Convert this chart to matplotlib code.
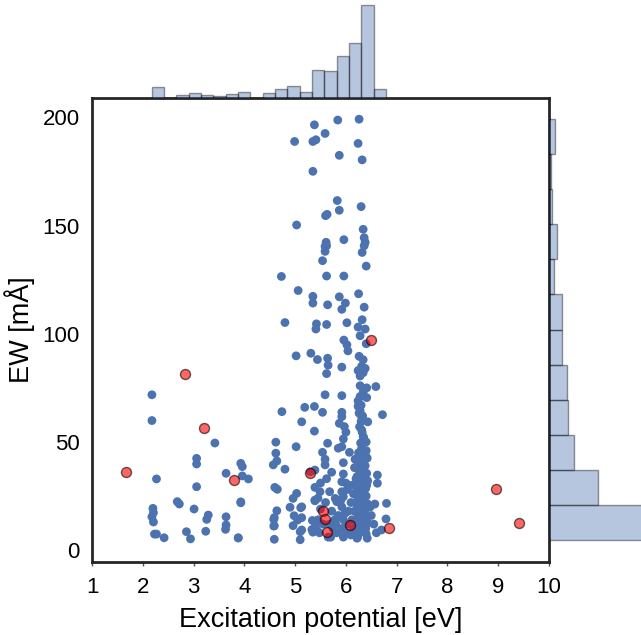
import matplotlib
matplotlib.use("Agg")
import matplotlib.pyplot as plt
import numpy as np

plt.rcParams['font.family'] = ['Liberation Sans', 'DejaVu Sans']

# blue points: (excitation potential, EW)
blue_x = [5.38, 4.99, 5.35, 5.41, 5.35, 5.03, 4.73, 5.06, 5.35, 5.35, 4.80, 5.42,
          5.84, 6.26, 5.59, 6.24, 5.87, 6.32, 5.83, 5.87, 6.30, 5.60, 5.63, 6.34,
          5.96, 6.36, 6.38, 6.36, 5.61, 5.62, 5.59,
          5.59, 6.32, 5.54, 6.40, 5.62, 5.96, 5.64, 5.87, 5.99, 5.92, 6.25, 6.36,
          5.41, 5.62, 6.02, 6.32, 6.24, 6.38, 6.28, 6.40, 5.96, 6.02, 6.04, 5.31,
          5.44, 5.64, 5.65, 5.62, 5.92,
          6.26, 6.34, 6.31, 6.34, 6.28, 6.38, 6.24,
          6.59, 6.28, 6.41, 6.34, 6.28, 6.41, 5.59, 5.92, 5.02,
          5.38, 5.54, 6.24, 6.24, 5.92, 5.92, 6.26, 6.31, 6.72, 5.13, 5.87, 5.97,
          6.00, 6.43, 5.38, 6.31, 6.34, 6.40, 5.95, 5.64, 5.85, 5.92, 5.54, 6.07,
          5.59, 5.59, 5.95, 6.17, 5.30, 5.95, 6.62, 5.92, 5.39, 5.49, 6.62, 5.92,
          5.95, 5.39, 5.13, 5.79, 5.82, 6.80, 6.57, 6.79, 6.70,
          4.74, 4.62, 4.62, 4.64, 4.57, 3.93, 3.96, 5.02, 4.80, 3.96, 4.08, 5.39,
          4.60, 4.65, 5.03, 4.96, 3.93, 4.90, 5.11, 4.64, 4.98, 5.05, 4.96, 4.59,
          4.59, 5.10, 3.88, 4.59, 5.10, 5.34, 5.35, 5.13, 5.13, 5.40, 5.43, 5.45,
          5.33, 5.19, 5.39,
          2.18, 2.18, 3.42, 3.06, 3.06, 2.27, 3.06, 3.64, 3.93, 2.68, 2.72, 2.20,
          2.21, 2.18, 2.21, 3.01, 3.29, 3.26, 3.64, 3.64, 3.63, 2.23, 2.27, 2.42,
          2.86, 2.94, 3.24, 3.88, 4.58, 4.58,
          5.72, 5.78, 5.75, 5.82, 5.70, 5.85, 5.80, 5.68,
          5.92, 5.98, 5.95, 6.02, 5.92, 6.00, 5.95, 6.05, 5.90, 6.03, 6.00,
          6.12, 6.15, 6.10, 6.17, 6.12, 6.15, 6.10, 6.20, 6.18,
          5.45, 5.50, 5.55, 5.48, 5.65, 5.60, 5.68, 5.62, 5.72, 5.50,
          6.50, 6.55, 6.48, 6.60,
          6.30, 6.28, 6.33, 6.30, 6.27, 6.32, 6.35, 6.29, 6.31, 6.26, 6.34, 6.30,
          6.28, 6.33, 6.30, 6.27, 6.32, 6.35, 6.29, 6.31, 6.26, 6.34, 6.30, 6.28,
          6.24, 6.22, 6.25, 6.23, 6.24, 6.22, 6.25, 6.23, 6.24, 6.22, 6.25, 6.23,
          6.24, 6.22, 6.25, 6.23,
          6.40, 6.42, 6.38, 6.41, 6.43, 6.39, 6.40, 6.42, 6.38, 6.41, 6.43, 6.39,
          6.40, 6.42, 6.38, 6.41]
blue_y = [196.6, 188.9, 188.9, 189.7, 175.1, 150.3, 126.5, 120.0, 117.3, 114.2, 105.2, 104.6,
          198.8, 199.2, 192.6, 188.0, 182.5, 180.4, 161.6, 157.1, 158.8, 154.6, 155.2, 148.3,
          143.5, 144.4, 142.3, 140.7, 142.3, 140.7, 140.4,
          138.1, 137.6, 133.8, 131.3, 126.7, 126.7, 113.4, 117.1, 114.2, 111.3, 118.5, 112.3,
          102.2, 104.3, 105.1, 106.5, 103.1, 102.2, 99.1, 95.4, 97.1, 94.9, 92.1, 91.0,
          88.1, 88.7, 85.5, 81.6, 84.6,
          89.6, 88.0, 85.0, 82.0, 80.5, 84.0, 83.0,
          75.6, 76.0, 75.0, 73.0, 71.0, 70.5, 71.8, 71.4, 89.8,
          66.4, 63.7, 69.0, 66.5, 63.7, 61.7, 63.3, 61.7, 62.6, 59.3, 58.6, 57.1,
          54.5, 59.3, 55.0, 55.6, 52.5, 50.0, 51.4, 49.4, 47.1, 47.8, 45.2, 45.2,
          42.0, 39.4, 40.4, 38.1, 36.2, 35.2, 34.7, 31.6, 29.0, 27.0, 30.9, 27.0,
          24.7, 23.1, 20.0, 23.9, 22.4, 21.6, 21.3, 14.4, 9.3,
          64.0, 49.9, 44.8, 41.2, 39.4, 40.1, 38.6, 47.8, 37.4, 34.3, 32.9, 37.0,
          29.0, 28.1, 26.2, 23.9, 21.9, 19.8, 19.6, 18.2, 15.9, 13.9, 11.3, 15.0,
          11.3, 8.5, 5.6, 5.0, 4.8, 13.7, 8.3, 15.0, 9.3, 11.0, 9.0, 14.0,
          9.5, 66.0, 22.8,
          71.8, 59.9, 49.5, 42.4, 39.8, 32.9, 29.3, 35.5, 22.3, 22.4, 21.3, 19.3,
          17.3, 15.4, 13.0, 19.0, 16.2, 14.2, 15.4, 11.6, 9.6, 7.4, 7.4, 5.7,
          8.5, 5.2, 8.7, 5.7, 14.2, 11.1,
          18.0, 14.0, 10.0, 8.0, 6.0, 16.0, 12.0, 12.0,
          20.0, 17.0, 14.0, 12.0, 10.0, 8.0, 6.0, 18.0, 23.0, 28.0, 31.0,
          30.0, 26.0, 22.0, 18.0, 14.0, 10.0, 7.0, 33.0, 42.0,
          24.0, 19.0, 12.0, 8.0, 6.0, 22.0, 27.0, 33.0, 36.0, 31.0,
          16.0, 12.0, 20.0, 8.0,
          67.0, 64.5, 62.0, 59.5, 57.0, 54.5, 52.0, 49.5, 47.0, 44.5, 42.0, 39.5,
          37.0, 34.5, 32.0, 29.5, 27.0, 24.5, 22.0, 19.5, 17.0, 14.5, 12.0, 9.5,
          7.0, 5.5, 45.0, 41.0, 37.5, 34.0, 30.5, 27.5, 24.0, 21.0, 18.0, 15.0,
          12.5, 10.0, 8.0, 6.0,
          46.0, 42.5, 39.0, 35.5, 32.0, 28.5, 25.0, 21.5, 18.5, 15.5, 12.5, 10.0,
          7.5, 5.5, 44.0, 30.0]

red_x = [1.66, 2.84, 3.21, 3.80, 5.29, 6.50, 5.54, 5.59, 5.62, 6.08, 6.84, 8.96, 9.41]
red_y = [36.0, 81.2, 56.3, 32.4, 35.5, 97.2, 18.1, 14.5, 8.5, 11.7, 10.0, 28.4, 12.4]

# marginal histograms (heights)
histx_left = 2.174
histx_width = 0.2428
histx_heights = [10.7, 0, 3.3, 5.0, 3.3, 2.3, 4.0, 6.0, 0, 5.0, 9.0, 11.7,
                 6.0, 27.7, 27.0, 42.3, 54.7, 92.7, 9.0]
histy_bottom = 4.6
histy_width = 16.23
histy_heights = [159, 48.7, 24.7, 18.7, 18.3, 12.7, 12.7, 5.3, 8.3, 3.3, 2.3, 6.0]

blue = '#4C72B0'
W, H = 641, 635

fig = plt.figure(figsize=(W / 100, H / 100), dpi=100)
ax = fig.add_axes([92 / W, 73 / H, 457 / W, 464 / H])
ax_top = fig.add_axes([92 / W, 537 / H, 457 / W, 98 / H])
ax_right = fig.add_axes([549 / W, 73 / H, 100 / W, 464 / H])

ax.scatter(blue_x, blue_y, s=40, color=blue, edgecolor='none', zorder=2)
ax.scatter(red_x, red_y, s=52, color='red', alpha=0.6, edgecolor='black',
           linewidth=1, zorder=3)
ax.set_xlim(1, 10)
ax.set_ylim(-5.5, 209)
ax.set_xticks(range(1, 11))
ax.set_yticks([0, 50, 100, 150, 200])
ax.tick_params(axis='x', length=3, width=1, color='#555555', labelsize=16, pad=8)
ax.tick_params(axis='y', length=0, labelsize=16, pad=9)
for sp in ax.spines.values():
    sp.set_color('#262626')
    sp.set_linewidth(2)
ax.set_xlabel("Excitation potential [eV]", fontsize=19.5, labelpad=6)
ax.set_ylabel("EW [mÅ]", fontsize=19.5, labelpad=5)

lefts = [histx_left + i * histx_width for i in range(len(histx_heights))]
ax_top.bar(lefts, histx_heights, width=histx_width, align='edge',
           color=blue, alpha=0.4, edgecolor='black', linewidth=1)
ax_top.set_xlim(1, 10)
ax_top.set_ylim(0, 98)
ax_top.axis('off')

bottoms = [histy_bottom + i * histy_width for i in range(len(histy_heights))]
ax_right.barh(bottoms, histy_heights, height=histy_width, align='edge',
              color=blue, alpha=0.4, edgecolor='black', linewidth=1)
ax_right.set_ylim(-5.5, 209)
ax_right.set_xlim(0, 100)
ax_right.axis('off')

fig.savefig('out.png', dpi=100)
